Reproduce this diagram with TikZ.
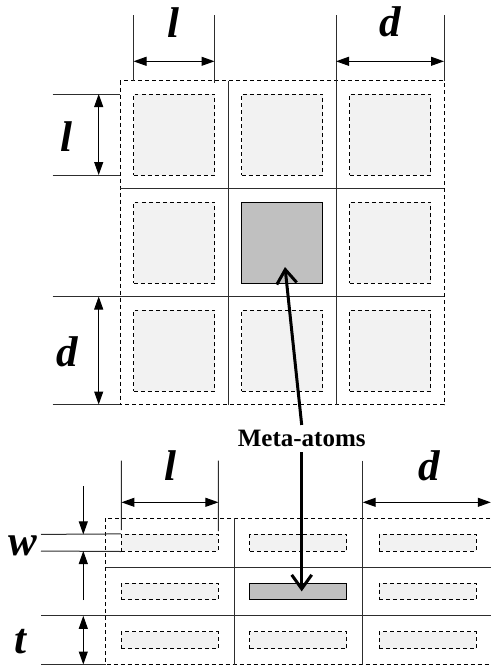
\documentclass[tikz,border=0pt]{standalone}
\usepackage{fontspec}
\setmainfont{Liberation Serif}
\usetikzlibrary{arrows.meta, positioning, calc}
\definecolor{atomcol}{RGB}{242,242,242}
\definecolor{centercol}{RGB}{192,192,192}
\definecolor{gridcol}{RGB}{45,45,45}

\begin{document}
\begin{tikzpicture}[
  x=0.5pt, y=-0.5pt,
  atom/.style={draw=black, dash pattern=on 2pt off 1.5pt, line width=0.5pt,
               fill=atomcol, inner sep=0pt, minimum width=40.5pt, minimum height=40.5pt},
  bar/.style={atom, minimum width=48.5pt, minimum height=8.3pt},
  hot/.style={draw=black, solid, fill=centercol},
  border/.style={draw=black, dash pattern=on 2pt off 1.5pt, line width=0.5pt},
  cell/.style={draw=gridcol, line width=0.5pt},
  dim/.style={draw=black, line width=0.5pt, -{Triangle[length=6.5pt, width=4.5pt]}},
  dimdim/.style={dim, {Triangle[length=6.5pt, width=4.5pt]}-{Triangle[length=6.5pt, width=4.5pt]}},
  pointer/.style={draw=black, line width=1.5pt, -{Straight Barb[length=7pt, width=10pt]}},
  sym/.style={font=\fontsize{21.5}{24}\selectfont\bfseries\itshape, inner sep=0pt, anchor=base},
  label/.style={font=\fontsize{12.5}{14}\selectfont\bfseries, inner sep=2.5pt, anchor=base}
]
  \useasboundingbox (0,0) rectangle (491,666);

  % square meta-atoms, top view
  \draw[border] (120,80.5) rectangle (444,404.5);
  \draw[cell] (228,80.5) -- (228,404.5) (336,15) -- (336,404.5)
              (444,15) -- (444,80.5)
              (120,188.5) -- (444,188.5) (52.7,296.5) -- (444,296.5)
              (52.7,404.5) -- (120,404.5);
  \draw[cell] (133.5,15) -- (133.5,81) (214.5,15) -- (214.5,83)
              (52.7,94) -- (120,94) (52.7,175) -- (120,175);

  \node[atom] (sq11) at (174,134.5) {};
  \node[atom] (sq12) at (282,134.5) {};
  \node[atom] (sq13) at (390,134.5) {};
  \node[atom] (sq21) at (174,242.5) {};
  \node[atom, hot] (sq22) at (282,242.5) {};
  \node[atom] (sq23) at (390,242.5) {};
  \node[atom] (sq31) at (174,350.5) {};
  \node[atom] (sq32) at (282,350.5) {};
  \node[atom] (sq33) at (390,350.5) {};

  \coordinate (lA) at (133.5,61.3);  \coordinate (lB) at (214.5,61.3);
  \coordinate (dA) at (336,61.3);    \coordinate (dB) at (444,61.3);
  \coordinate (lC) at (98.7,94);     \coordinate (lD) at (98.7,175);
  \coordinate (dC) at (98.7,296.5);  \coordinate (dD) at (98.7,404.5);
  \draw[dimdim] (lA) -- (lB);
  \draw[dimdim] (dA) -- (dB);
  \draw[dimdim] (lC) -- (lD);
  \draw[dimdim] (dC) -- (dD);
  \node[sym] (ltop) at (173,37) {l};
  \node[sym] (dtop) at (390,36) {d};
  \node[sym] (lside) at (66,151.7) {l};
  \node[sym] (dside) at (67.5,366) {d};

  % bar meta-atoms, side view
  \draw[border] (105.7,518.3) rectangle (491.2,664.5);
  \draw[cell] (234.2,518.3) -- (234.2,664.5) (362.7,460.7) -- (362.7,664.5)
              (105.7,567) -- (491.2,567) (41,615.8) -- (491.2,615.8)
              (41,664.5) -- (105.7,664.5);

  \node[bar] (bar11) at (169.95,542.7) {};
  \node[bar] (bar12) at (298.45,542.7) {};
  \node[bar] (bar13) at (427.5,542.7) {};
  \node[bar] (bar21) at (169.95,591.4) {};
  \node[bar, hot] (bar22) at (298.45,591.4) {};
  \node[bar] (bar23) at (427.5,591.4) {};
  \node[bar] (bar31) at (169.95,640.2) {};
  \node[bar] (bar32) at (298.45,640.2) {};
  \node[bar] (bar33) at (427.5,640.2) {};

  \draw[cell] (121.45,460.7) -- (121.45,530) (218.45,460.7) -- (218.45,531)
              (41,534.4) -- (bar11.north west) (41,551) -- (bar11.south west);

  \coordinate (lE) at (121.45,502.3); \coordinate (lF) at (218.45,502.3);
  \coordinate (dE) at (362.7,502.3);  \coordinate (dF) at (490.8,502.3);
  \coordinate (wA) at (83.3,486);     \coordinate (wB) at (83.3,534.4);
  \coordinate (wC) at (83.3,600);     \coordinate (wD) at (83.3,551);
  \coordinate (tA) at (83.3,615.8);   \coordinate (tB) at (83.3,664.5);
  \draw[dimdim] (lE) -- (lF);
  \draw[dimdim] (dE) -- (dF);
  \draw[dim] (wA) -- (wB);
  \draw[dim] (wC) -- (wD);
  \draw[dimdim] (tA) -- (tB);
  \node[sym] (lbot) at (170,480) {l};
  \node[sym] (dbot) at (429,480) {d};
  \node[sym] (wside) at (22.7,555) {w};
  \node[sym] (tside) at (20,653) {t};

  \node[label] (meta) at (301.7,446.7) {Meta-atoms};
  \coordinate (hit) at (285,267);
  \draw[pointer] (meta.north) -- (hit);
  \draw[pointer] (meta.south) -- (meta.south |- bar22.center);
\end{tikzpicture}
\end{document}
